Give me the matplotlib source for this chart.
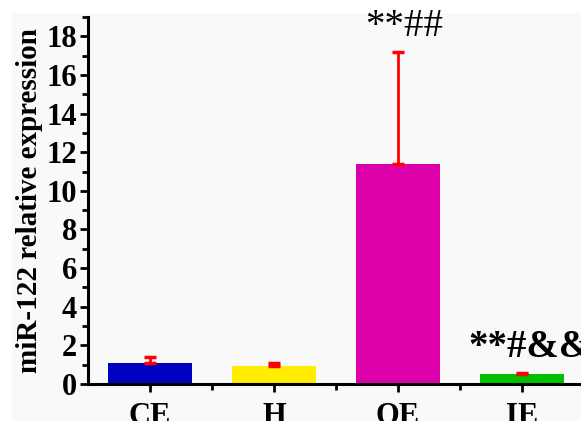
import matplotlib
matplotlib.use('Agg')
import matplotlib.pyplot as plt
from matplotlib.patches import Rectangle
from matplotlib.ticker import MultipleLocator, FixedLocator

groups = ['CE', 'H', 'OE', 'IE']
values = [1.08, 0.93, 11.4, 0.5]
errors = [0.30, 0.15, 5.8, 0.08]
colors = ['#0000c0', '#ffee00', '#dd00aa', '#00c000']
marks = ['', '', '**##', '**#&&']

plt.rcParams['font.family'] = ['Liberation Serif', 'DejaVu Serif']

fig = plt.figure(figsize=(5.81, 4.21), dpi=100)
# light grey panel behind the plot, white strip on top/left
fig.patches.append(Rectangle((12 / 581, 0), 1, (421 - 13) / 421, transform=fig.transFigure,
                             facecolor='#f9f9f9', edgecolor='none', zorder=-5))
ax = fig.add_axes([88 / 581, 37 / 421, 496 / 581, 367 / 421])
ax.set_facecolor('none')

x = [1, 2, 3, 4]
ax.bar(x, values, width=0.67, color=colors, zorder=2)
ax.errorbar(x, values, yerr=[[0] * 4, errors], fmt='none', ecolor='red',
            elinewidth=2, capsize=4, capthick=2.5, zorder=3)

ax.text(3.05, 18.5, marks[2], ha='center', va='center', fontsize=28)
ax.text(3.57, 1.9, marks[3], ha='left', va='center', fontsize=28, fontweight='bold')

ax.set_xlim(0.5, 4.5)
ax.set_ylim(0, 19)
ax.set_xticks(x)
ax.set_xticklabels(groups, fontsize=22, fontweight='bold')
ax.xaxis.set_minor_locator(FixedLocator([1.5, 2.5, 3.5]))
ax.yaxis.set_major_locator(MultipleLocator(2))
ax.yaxis.set_minor_locator(MultipleLocator(1))
for lab in ax.get_yticklabels():
    lab.set_fontsize(22)
    lab.set_fontweight('bold')

ax.tick_params(which='major', direction='out', length=6, width=2, pad=2)
ax.tick_params(axis='x', which='major', pad=7)
ax.tick_params(which='minor', direction='out', length=4, width=2)
ax.spines['top'].set_visible(False)
ax.spines['right'].set_visible(False)
ax.spines['left'].set_linewidth(2.2)
ax.spines['bottom'].set_linewidth(2.2)

ax.set_ylabel('miR-122 relative expression', fontsize=21, fontweight='bold', labelpad=2)

fig.savefig('out.png', dpi=100, facecolor='white')
